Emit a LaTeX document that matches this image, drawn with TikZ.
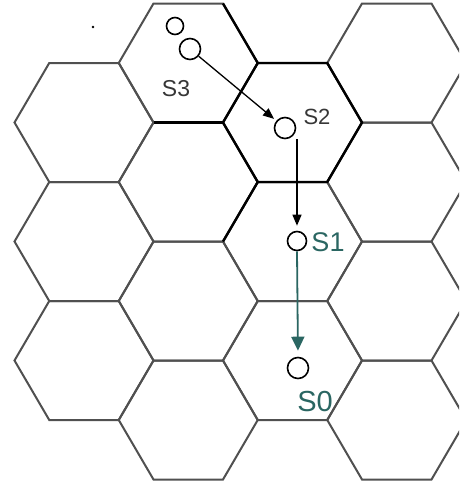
\documentclass[tikz,border=0pt]{standalone}
\usepackage{fontspec}
\setmainfont{Liberation Sans}
\usetikzlibrary{arrows.meta}
\definecolor{gridgray}{RGB}{80,80,80}
\definecolor{tealc}{RGB}{42,102,98}
\definecolor{labgray}{RGB}{55,55,55}
\tikzset{
  gridline/.style={draw=gridgray, line width=2pt, line join=miter},
  darkline/.style={draw=black, line width=2.4pt, line join=miter},
  stn/.style={circle, draw=black, line width=1.6pt, inner sep=0pt},
  blackarr/.style={draw=black, line width=1.3pt, -{Triangle[length=11pt,width=9pt]}},
  tealarr/.style={draw=tealc, line width=1.8pt, -{Triangle[length=14pt,width=13pt]}},
  lab/.style={text=labgray, inner sep=0pt},
  tlab/.style={text=tealc, inner sep=0pt}
}
\newcommand\hexcell[3][gridline]{%
  \draw[#1] (#2-69.5,#3) -- (#2-34.75,#3-59.5) -- (#2+34.75,#3-59.5) -- (#2+69.5,#3)
    -- (#2+34.75,#3+59.5) -- (#2-34.75,#3+59.5) -- cycle;}
\begin{document}
\begin{tikzpicture}[x=1pt,y=-1pt]
\useasboundingbox (0,0) rectangle (459,482);
\fill[white] (0,0) rectangle (459,482);
\begin{scope}
\clip (0,0) rectangle (459,482);
% grid of hexagons
\foreach \cy in {122.5,241.5,360.5} {\hexcell{84}{\cy}}
\foreach \cy in {63,182,301,420} {\hexcell{188.25}{\cy}}
\foreach \cy in {122.5,241.5,360.5} {\hexcell{292.5}{\cy}}
\foreach \cy in {63,182,301,420} {\hexcell{396.75}{\cy}}
% highlighted edges
\hexcell[darkline]{292.5}{122.5}
\draw[darkline] (153.5,122.5) -- (223,122.5);
\draw[darkline] (223,3.5) -- (257.75,63);
\draw[darkline] (257.75,182) -- (223,241.5);
\end{scope}
% stray dot
\fill[black] (93,27) circle (1.4pt);
% stations
\node[stn, minimum size=17pt] (s3a) at (175,26) {};
\node[stn, minimum size=21pt] (s3b) at (190,49) {};
\node[stn, minimum size=21pt] (s2) at (285,128) {};
\node[stn, minimum size=19pt] (s1) at (297,241) {};
\node[stn, minimum size=21pt] (s0) at (298,368) {};
% labels
\node[lab, font=\fontsize{23}{23}\selectfont] (l3) at (176,89) {S3};
\node[lab, font=\fontsize{22}{22}\selectfont] (l2) at (317,117) {S2};
\node[tlab, font=\fontsize{27}{27}\selectfont] (l1) at (328,242) {S1};
\node[tlab, font=\fontsize{29}{29}\selectfont] (l0) at (315,402) {S0};
% arrows
\draw[blackarr, shorten >=3pt] (s3b) -- (s2);
\draw[blackarr, shorten >=5pt] (s2.south -| s1.north) -- (s1.north);
\draw[tealarr, shorten >=6pt] (s1.south) -- (s0.north);
\end{tikzpicture}
\end{document}
